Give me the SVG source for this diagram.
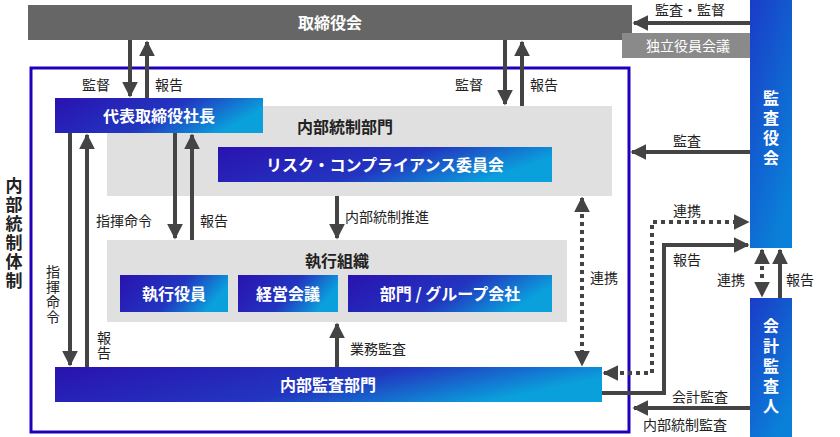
<svg xmlns="http://www.w3.org/2000/svg" width="840" height="437" viewBox="0 0 840 437">
<defs>
<linearGradient id="bg" x1="0" y1="0" x2="1" y2="0.3"><stop offset="0" stop-color="#2a12b0"/><stop offset="0.6" stop-color="#2236c0"/><stop offset="1" stop-color="#0aa0dc"/></linearGradient>
<linearGradient id="bv" x1="0" y1="0" x2="0.6" y2="1"><stop offset="0" stop-color="#1a3cc8"/><stop offset="1" stop-color="#0a80d8"/></linearGradient>
<marker id="a" viewBox="0 0 10 10" refX="9" refY="5" markerWidth="4" markerHeight="4" orient="auto-start-reverse"><path d="M0,0L10,5L0,10z" fill="#444"/></marker>
<style>
text{font-family:"Noto Sans CJK JP","Noto Sans",sans-serif}
.l{font-size:14px;fill:#222}
.w{font-size:16px;fill:#fff;font-weight:bold}
.c{stroke:#444;stroke-width:4;fill:none}
.d{stroke:#444;stroke-width:4;fill:none;stroke-dasharray:4 4}
</style>
</defs>
<g id="torishimariyakukai"><rect x="28" y="5" width="604" height="35" fill="#666"/><text x="330" y="29" class="w" text-anchor="middle">取締役会</text></g>
<g id="dokuritsu"><rect x="622" y="33" width="136" height="25" fill="#8a8a8a"/><text x="688" y="51" font-size="14" fill="#fff" text-anchor="middle">独立役員会議</text></g>
<g id="outer"><rect x="31" y="68" width="598" height="364" fill="none" stroke="#2200bb" stroke-width="3"/><text font-size="17" font-weight="bold" fill="#222" text-anchor="middle"><tspan x="14" y="192">内</tspan><tspan x="14" y="211">部</tspan><tspan x="14" y="230">統</tspan><tspan x="14" y="249">制</tspan><tspan x="14" y="268">体</tspan><tspan x="14" y="287">制</tspan></text></g>
<g id="naibutosei"><rect x="107" y="106" width="505" height="90" fill="#e0e0e0"/><text x="345" y="133" font-size="16" font-weight="bold" fill="#222" text-anchor="middle">内部統制部門</text></g>
<g id="risk"><rect x="218" y="147" width="334" height="35" fill="url(#bg)"/><text x="385" y="171" class="w" text-anchor="middle">リスク・コンプライアンス委員会</text></g>
<g id="shikko"><rect x="107" y="240" width="460" height="82" fill="#e0e0e0"/><text x="337" y="267" font-size="16" font-weight="bold" fill="#222" text-anchor="middle">執行組織</text></g>
<g id="yakuin"><rect x="120" y="275" width="108" height="37" fill="url(#bg)"/><text x="174" y="300" class="w" text-anchor="middle">執行役員</text></g>
<g id="keiei"><rect x="238" y="275" width="100" height="37" fill="url(#bg)"/><text x="288" y="300" class="w" text-anchor="middle">経営会議</text></g>
<g id="bumon"><rect x="348" y="275" width="204" height="37" fill="url(#bg)"/><text x="450" y="300" class="w" text-anchor="middle">部門 / グループ会社</text></g>
<g id="shacho"><rect x="55" y="98" width="208" height="35" fill="url(#bg)"/><text x="159" y="122" class="w" text-anchor="middle">代表取締役社長</text></g>
<g id="kansa"><rect x="55" y="367" width="547" height="35" fill="url(#bg)"/><text x="328" y="391" class="w" text-anchor="middle">内部監査部門</text></g>
<g id="kansayakukai"><rect x="750" y="0" width="42" height="248" fill="url(#bv)"/><text class="w" font-size="18" text-anchor="middle"><tspan x="771" y="104">監</tspan><tspan x="771" y="124">査</tspan><tspan x="771" y="144">役</tspan><tspan x="771" y="164">会</tspan></text></g>
<g id="kaikei"><rect x="750" y="298" width="42" height="139" fill="url(#bv)"/><text class="w" font-size="18" text-anchor="middle"><tspan x="771" y="332">会</tspan><tspan x="771" y="352">計</tspan><tspan x="771" y="372">監</tspan><tspan x="771" y="392">査</tspan><tspan x="771" y="412">人</tspan></text></g>
<g id="connectors">
<path class="c" d="M130,40V96" marker-end="url(#a)"/><path class="c" d="M147,98V42" marker-end="url(#a)"/>
<path class="c" d="M505,40V104" marker-end="url(#a)"/><path class="c" d="M522,106V42" marker-end="url(#a)"/>
<path class="c" d="M750,23H634" marker-end="url(#a)"/>
<path class="c" d="M750,152H632" marker-end="url(#a)"/>
<path class="c" d="M70,133V365" marker-end="url(#a)"/><path class="c" d="M87,367V135" marker-end="url(#a)"/>
<path class="c" d="M175,133V238" marker-end="url(#a)"/><path class="c" d="M192,240V135" marker-end="url(#a)"/>
<path class="c" d="M337,196V238" marker-end="url(#a)"/>
<path class="c" d="M337,367V324" marker-end="url(#a)"/>
<path class="d" d="M582,198V365" marker-start="url(#a)" marker-end="url(#a)"/>
<path class="d" d="M604,373H652V222H748" marker-start="url(#a)" marker-end="url(#a)"/>
<path class="c" d="M602,393H664V245H748" marker-end="url(#a)"/>
<path class="d" d="M762,250V296" marker-start="url(#a)" marker-end="url(#a)"/>
<path class="c" d="M780,298V250" marker-end="url(#a)"/>
<path class="c" d="M750,408H634" marker-end="url(#a)"/>
</g>
<g id="labels">
<text x="655" y="15" class="l">監査・監督</text>
<text x="82" y="90" class="l">監督</text><text x="155" y="90" class="l">報告</text>
<text x="455" y="90" class="l">監督</text><text x="530" y="90" class="l">報告</text>
<text x="673" y="146" class="l">監査</text>
<text x="96" y="226" class="l">指揮命令</text><text x="200" y="226" class="l">報告</text>
<text x="345" y="222" class="l">内部統制推進</text>
<text x="350" y="354" class="l">業務監査</text>
<text x="590" y="283" class="l">連携</text>
<text x="673" y="216" class="l">連携</text>
<text x="673" y="265" class="l">報告</text>
<text x="717" y="285" class="l">連携</text><text x="786" y="285" class="l">報告</text>
<text x="672" y="402" class="l">会計監査</text>
<text x="643" y="430" class="l">内部統制監査</text>
<text class="l" text-anchor="middle"><tspan x="53" y="277">指</tspan><tspan x="53" y="292">揮</tspan><tspan x="53" y="307">命</tspan><tspan x="53" y="322">令</tspan></text>
<text class="l" text-anchor="middle"><tspan x="104" y="343">報</tspan><tspan x="104" y="358">告</tspan></text>
</g>
</svg>
